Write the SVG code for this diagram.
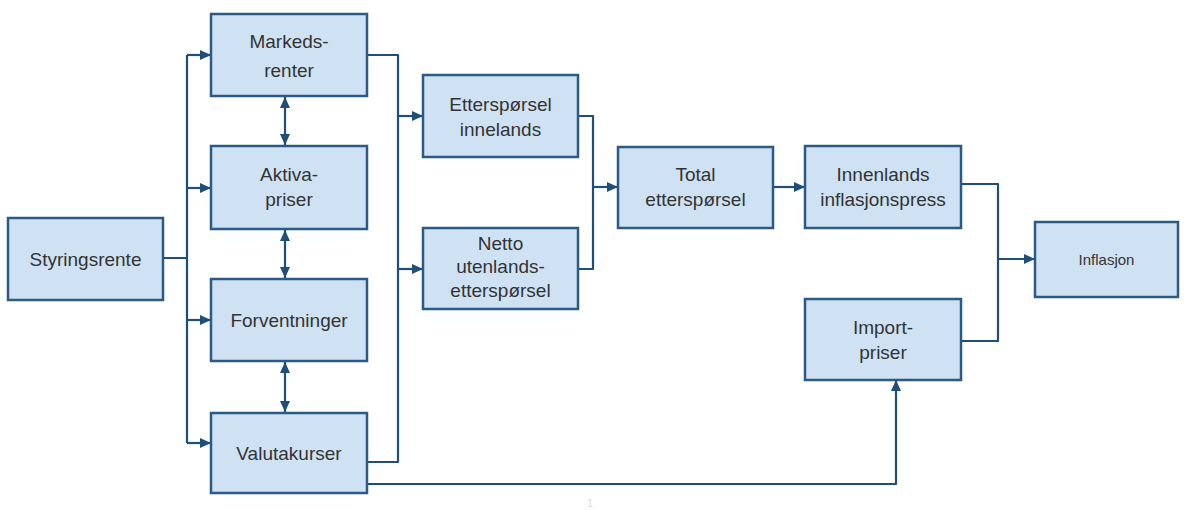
<svg xmlns="http://www.w3.org/2000/svg" width="1186" height="510" viewBox="0 0 1186 510">
<style>
.box{fill:#cfe2f3;stroke:#2a5a85;stroke-width:2.5}
.t{font-family:"Liberation Sans",Arial,sans-serif;font-size:19px;fill:#333;text-anchor:middle}
.c{fill:none;stroke:#1f4e79;stroke-width:2.2;stroke-linejoin:round}
.a{marker-end:url(#ah)}
.b{marker-end:url(#ah);marker-start:url(#ah)}
</style>
<defs>
<marker id="ah" markerUnits="userSpaceOnUse" markerWidth="11" markerHeight="10" refX="11" refY="5" orient="auto-start-reverse">
<path d="M0,0 L11,5 L0,10 z" fill="#1f4e79"/>
</marker>
</defs>
<rect width="1186" height="510" fill="#fff"/>
<g id="connectors">
<path class="c" d="M163,258 H187 M187,55 V443"/>
<path class="c a" d="M187,55 H211"/>
<path class="c a" d="M187,188 H211"/>
<path class="c a" d="M187,320 H211"/>
<path class="c a" d="M187,443 H211"/>
<path class="c b" d="M285,97 V145"/>
<path class="c b" d="M285,230 V278"/>
<path class="c b" d="M285,362 V412"/>
<path class="c" d="M367,55 H398 V462 H367"/>
<path class="c a" d="M398,116 H423"/>
<path class="c a" d="M398,269 H423"/>
<path class="c" d="M578,116 H593 V269 H578"/>
<path class="c a" d="M593,187 H618"/>
<path class="c a" d="M773,187 H805"/>
<path class="c" d="M961,184 H998 V341 H961"/>
<path class="c a" d="M998,259 H1035"/>
<path class="c a" d="M367,484 H896 V380"/>
</g>
<g id="styringsrente"><rect class="box" x="8" y="218" width="155" height="82"/><text class="t" x="85.5" y="266">Styringsrente</text></g>
<g id="markedsrenter"><rect class="box" x="211" y="14" width="156" height="82"/><text class="t" x="289" y="48">Markeds-</text><text class="t" x="289" y="77">renter</text></g>
<g id="aktivapriser"><rect class="box" x="211" y="146" width="156" height="83"/><text class="t" x="289" y="181">Aktiva-</text><text class="t" x="289" y="206">priser</text></g>
<g id="forventninger"><rect class="box" x="211" y="279" width="156" height="82"/><text class="t" x="289" y="327">Forventninger</text></g>
<g id="valutakurser"><rect class="box" x="211" y="413" width="156" height="80"/><text class="t" x="289" y="460">Valutakurser</text></g>
<g id="ettersporsel-innelands"><rect class="box" x="423" y="75" width="155" height="82"/><text class="t" x="500.5" y="111">Etterspørsel</text><text class="t" x="500.5" y="136">innelands</text></g>
<g id="netto-utenlands"><rect class="box" x="423" y="228" width="155" height="81"/><text class="t" x="500.5" y="250">Netto</text><text class="t" x="500.5" y="273">utenlands-</text><text class="t" x="500.5" y="297">etterspørsel</text></g>
<g id="total-ettersporsel"><rect class="box" x="618" y="147" width="155" height="81"/><text class="t" x="695.5" y="181">Total</text><text class="t" x="695.5" y="206">etterspørsel</text></g>
<g id="innenlands-inflasjonspress"><rect class="box" x="805" y="146" width="156" height="82"/><text class="t" x="883" y="181">Innenlands</text><text class="t" x="883" y="206">inflasjonspress</text></g>
<g id="importpriser"><rect class="box" x="805" y="299" width="156" height="81"/><text class="t" x="883" y="334">Import-</text><text class="t" x="883" y="359">priser</text></g>
<g id="inflasjon"><rect class="box" x="1035" y="222" width="143" height="75"/><text class="t" x="1106.5" y="265" style="font-size:15px">Inflasjon</text></g>
<text x="590" y="507" style="font-family:'Liberation Sans',sans-serif;font-size:11px;fill:#ddd;text-anchor:middle">1</text>
</svg>
